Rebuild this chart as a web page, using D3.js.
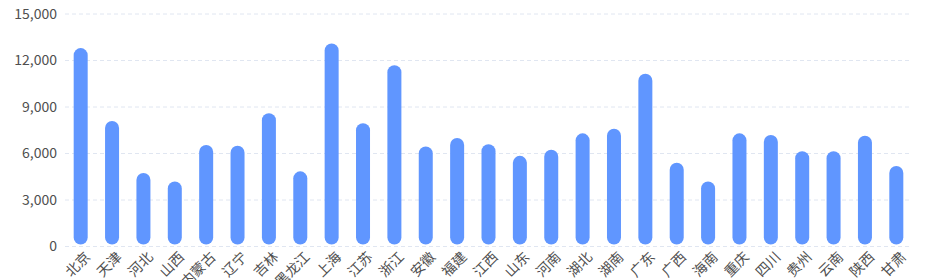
<html>
<script src='https://d3js.org/d3.v7.min.js'></script>
<style>
body { margin:0; background:#fff; }
text { font-family: "Noto Sans CJK SC", "Noto Sans", sans-serif; }
</style>
<body>
<svg width=930 height=280></svg>
<script>
// provinces and values
const provinces = ["北京","天津","河北","山西","内蒙古","辽宁","吉林","黑龙江","上海","江苏","浙江","安徽","福建","江西","山东","河南","湖北","湖南","广东","广西","海南","重庆","四川","贵州","云南","陕西","甘肃"];
const values = [12800,8100,4750,4200,6550,6500,8600,4850,13100,7950,11700,6450,7000,6600,5850,6250,7300,7600,11150,5400,4200,7300,7200,6150,6150,7150,5200];
const yTicks = [0,3000,6000,9000,12000,15000];

const svg = d3.select("svg");
const plotLeft = 65, plotRight = 912, plotTop = 14, plotBottom = 246.5;

var x = d3.scaleBand().domain(provinces).range([plotLeft, plotRight]);
var y = d3.scaleLinear().domain([0,15000]).range([plotBottom, plotTop]);
const bw = 14;

// grid lines
svg.append("g").selectAll("line")
.data(yTicks).enter()
.append("line")
.attr("x1", plotLeft).attr("x2", plotRight)
.attr("y1", d => y(d)).attr("y2", d => y(d))
.style("stroke", "#e0e6f1")
.style("stroke-dasharray", "4,3");

// y labels
svg.append("g").selectAll("text")
.data(yTicks).enter()
.append("text")
.attr("x", 57)
.attr("y", d => y(d))
.attr("dy", "0.35em")
.attr("text-anchor", "end")
.attr("font-size", "14px")
.style("fill", "#4f4f4f")
.text(d => d3.format(",")(d));

// bars
svg.append("g").selectAll("rect")
.data(values).enter()
.append("rect")
.attr("x", (d,i) => x(provinces[i]) + x.bandwidth()/2 - bw/2)
.attr("y", d => y(d))
.attr("width", bw)
.attr("height", d => y(0) - 2 - y(d))
.attr("rx", bw/2)
.style("fill", "#6096ff");

// x labels
svg.append("g").selectAll("text")
.data(provinces).enter()
.append("text")
.attr("transform", d => "translate(" + (x(d) + x.bandwidth()/2 + 7) + "," + (plotBottom + 8) + ") rotate(-45)")
.attr("text-anchor", "end")
.attr("dy", "0.35em")
.attr("font-size", "14px")
.style("fill", "#4f4f4f")
.text(d => d);
</script>
</body>
</html>
